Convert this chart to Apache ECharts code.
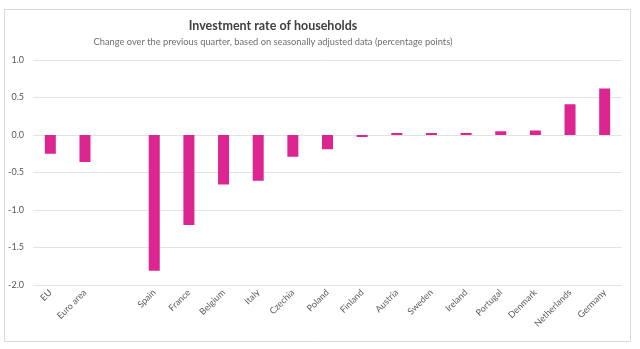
<!DOCTYPE html>
<html><head><meta charset="utf-8">
<script src="https://cdn.jsdelivr.net/npm/echarts@6/dist/echarts.min.js"></script>
<style>html,body{margin:0;padding:0;background:#fff}#c{width:640px;height:349px}</style>
</head><body><div id="c"></div>
<script>
const categories = ['EU','Euro area','','Spain','France','Belgium','Italy','Czechia','Poland','Finland','Austria','Sweden','Ireland','Portugal','Denmark','Netherlands','Germany'];
const values = [-0.25,-0.36,null,-1.81,-1.2,-0.66,-0.61,-0.29,-0.19,-0.02,0.02,0.02,0.02,0.05,0.06,0.41,0.62];
const yTicks = [-2.0,-1.5,-1.0,-0.5,0.0,0.5,1.0];
const titleText = 'Investment rate of households';
const subtitleText = 'Change over the previous quarter, based on seasonally adjusted data (percentage points)';
const font = 'Lato';
const chart = echarts.init(document.getElementById('c'), null, {renderer:'canvas'});
chart.setOption({
  animation:false,
  graphic:[
    {type:'rect', shape:{x:4.5,y:9.5,width:626,height:332}, style:{fill:'none',stroke:'#d9d9d9',lineWidth:1}, silent:true},
    {type:'text', x:273, y:19, style:{text:titleText, font:'bold 12.5px '+font, fill:'#404040', textAlign:'center'}, z:10},
    {type:'text', x:273, y:37, style:{text:subtitleText, font:'9.3px '+font, fill:'#6e6e6e', textAlign:'center'}, z:10}
  ],
  grid:{left:33,right:18,top:60,bottom:64,containLabel:false},
  xAxis:{type:'category', data:categories, position:'bottom',
    axisLine:{show:false,onZero:false}, axisTick:{show:false},
    axisLabel:{rotate:45, interval:0, fontFamily:font, fontSize:9, color:'#595959', margin:6}},
  yAxis:{type:'value', min:yTicks[0], max:yTicks[yTicks.length-1], interval:0.5,
    axisLine:{show:false}, axisTick:{show:false},
    splitLine:{lineStyle:{color:'#e3e3e3',width:1}},
    axisLabel:{formatter:v=>v.toFixed(1), fontFamily:font, fontSize:9, color:'#595959', margin:9}},
  series:[{type:'bar', data:values, barWidth:11, barMinHeight:2,
    itemStyle:{color:'#DC2590'}}]
});
</script></body></html>
